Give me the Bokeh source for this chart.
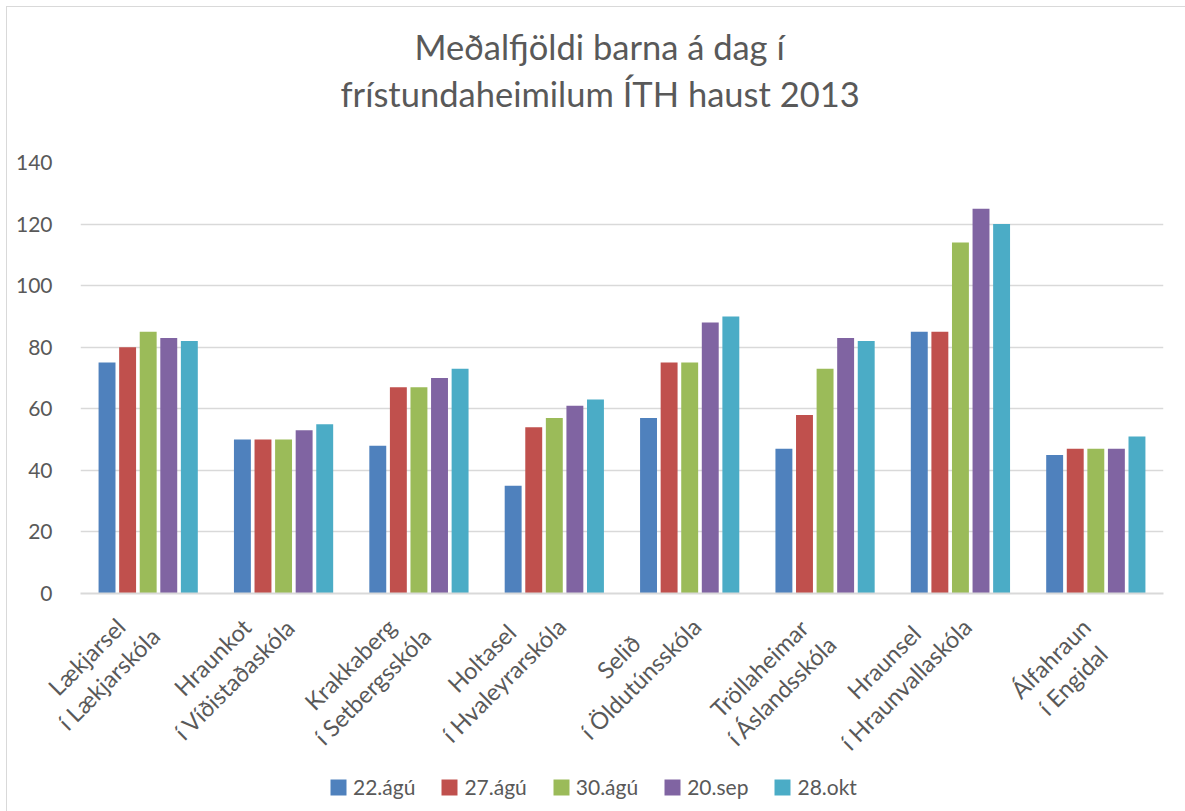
import math
from bokeh.plotting import figure
from bokeh.layouts import column
from bokeh.models import FactorRange, Range1d, Legend, LegendItem, Title, SingleIntervalTicker
from bokeh.transform import dodge
from bokeh.core.properties import value
from bokeh.embed import file_html
from bokeh.resources import INLINE

# category labels: (first line, second line)
school_lines = [
    ("Lækjarsel", "í Lækjarskóla"),
    ("Hraunkot", "í Víðistaðaskóla"),
    ("Krakkaberg", "í Setbergsskóla"),
    ("Holtasel", "í Hvaleyrarskóla"),
    ("Selið", "í Öldutúnsskóla"),
    ("Tröllaheimar", "í Áslandsskóla"),
    ("Hraunsel", "í Hraunvallaskóla"),
    ("Álfahraun", "í Engidal"),
]
series_names = ["22.ágú", "27.ágú", "30.ágú", "20.sep", "28.okt"]
d22_agu = [75, 50, 48, 35, 57, 47, 85, 45]
d27_agu = [80, 50, 67, 54, 75, 58, 85, 47]
d30_agu = [85, 50, 67, 57, 75, 73, 114, 47]
d20_sep = [83, 53, 70, 61, 88, 83, 125, 47]
d28_okt = [82, 55, 73, 63, 90, 82, 120, 51]
title_lines = ["Meðalfjöldi barna á dag í", "frístundaheimilum ÍTH haust 2013"]

schools = [a + "\n" + b for a, b in school_lines]
series = [d22_agu, d27_agu, d30_agu, d20_sep, d28_okt]
colors = ["#4F81BD", "#C0504D", "#9BBB59", "#8064A2", "#4BACC6"]
FONT = "Lato"
TXT = "#595959"

# ---- layout constants (pixels) ----
W = 1178
LEFT, RIGHT, TOP = 73, 22, 155
BOTTOM = 14
H_MAIN = 586 + BOTTOM
H_STRIP = 804 - H_MAIN
FRAME_W = W - LEFT - RIGHT
N = len(schools)

data = {"school": schools}
for i, s in enumerate(series):
    data[f"s{i}"] = s

p = figure(
    x_range=FactorRange(*schools, range_padding=0),
    y_range=Range1d(0, 140),
    width=W, height=H_MAIN,
    output_backend="svg", toolbar_location=None, title=None,
    min_border_left=LEFT, min_border_right=RIGHT, min_border_top=TOP, min_border_bottom=BOTTOM,
)
p.outline_line_color = None

offsets = [-0.304, -0.152, 0.0, 0.152, 0.304]
for i in range(5):
    p.vbar(x=dodge("school", offsets[i], range=p.x_range), top=f"s{i}", width=0.125,
           source=data, fill_color=colors[i], line_color=None)

p.yaxis.ticker = SingleIntervalTicker(interval=20)
p.yaxis.axis_line_color = None
p.yaxis.major_tick_line_color = None
p.yaxis.minor_tick_line_color = None
p.yaxis.major_label_standoff = 22
p.yaxis.major_label_text_font = FONT
p.yaxis.major_label_text_font_size = "21px"
p.yaxis.major_label_text_color = TXT

# x axis: only its line here; the rotated labels are drawn in the strip below
p.xaxis.axis_line_color = "#D9D9D9"
p.xaxis.axis_line_width = 2
p.xaxis.major_tick_line_color = None
p.xaxis.minor_tick_line_color = None
p.xaxis.major_tick_out = 0
p.xaxis.major_tick_in = 0
p.xaxis.major_label_standoff = 0
p.xaxis.major_label_text_font_size = "0px"
p.xaxis.major_label_text_color = None

p.xgrid.grid_line_color = None
p.ygrid.grid_line_color = "#D9D9D9"
p.ygrid.grid_line_width = 1.5

# title: spacer nearest the plot, then second line, then first line
p.add_layout(Title(text=" ", text_font_size="2px", standoff=42), "above")
p.add_layout(Title(text=title_lines[1], align="left", offset=260, standoff=5,
                   text_font=FONT, text_font_size="34.5px", text_font_style="normal",
                   text_color=TXT), "above")
p.add_layout(Title(text=title_lines[0], align="left", offset=334, standoff=4,
                   text_font=FONT, text_font_size="34.5px", text_font_style="normal",
                   text_color=TXT), "above")

# ---- strip below: rotated category labels + legend ----
q = figure(
    x_range=Range1d(-LEFT * N / FRAME_W, N + RIGHT * N / FRAME_W),
    y_range=Range1d(-H_STRIP, 0),
    width=W, height=H_STRIP, output_backend="svg", toolbar_location=None,
    x_axis_type=None, y_axis_type=None, min_border=0,
)
q.outline_line_color = None
try:
    p.frame_align = False
    q.frame_align = False
except Exception:
    pass

# approximate Lato advance widths (em) to lay out two centred lines
LATO_EM = {'a': .49, 'b': .55, 'c': .45, 'd': .55, 'e': .51, 'f': .31, 'g': .50, 'h': .55,
           'i': .23, 'j': .23, 'k': .50, 'l': .23, 'm': .83, 'n': .55, 'o': .55, 'p': .55,
           'r': .35, 's': .41, 't': .34, 'u': .55, 'v': .50, 'y': .50, 'æ': .80, 'ð': .55,
           'ö': .55, 'ó': .55, 'ú': .55, 'á': .49, 'í': .23, ' ': .19, 'L': .47, 'H': .72,
           'K': .62, 'S': .50, 'T': .55, 'Á': .67, 'Ö': .78, 'E': .56, 'V': .67}
FS = 23.5
LH = 31.3
RIGHT_GAP, TOP_GAP = 7, 29
c = math.cos(math.pi / 4)
axis_px = TOP + (H_MAIN - TOP - BOTTOM)   # frame bottom inside the main figure


def text_w(s):
    return sum(LATO_EM.get(ch, 0.5) for ch in s) * 1.03 * FS


centers = [i + 0.5 for i in range(N)]
xo1, yo1, xo2, yo2 = [], [], [], []
for a, b in school_lines:
    w1, w2 = text_w(a), text_w(b)
    dx = RIGHT_GAP - c * max(w1 / 2, LH + w2 / 2)
    dy = (axis_px + TOP_GAP + c * max(w1 / 2, w2 / 2 - LH)) - H_MAIN
    xo1.append(dx)
    yo1.append(dy)
    xo2.append(dx + c * LH)
    yo2.append(dy + c * LH)

lab = {"x": centers, "y": [0] * N,
       "t1": [a for a, b in school_lines], "t2": [b for a, b in school_lines],
       "xo1": xo1, "yo1": yo1, "xo2": xo2, "yo2": yo2}
for t, xo, yo in (("t1", "xo1", "yo1"), ("t2", "xo2", "yo2")):
    q.text(x="x", y="y", text=t, x_offset=xo, y_offset=yo, source=lab,
           angle=math.pi / 4, text_align="center", text_baseline="middle",
           text_font=value(FONT), text_font_size=value(f"{FS}px"), text_color=TXT)

qdata = {"xc": centers}
for i, s in enumerate(series):
    qdata[f"s{i}"] = s
leg_renderers = []
for i in range(5):
    r = q.vbar(x=dodge("xc", offsets[i]), top=f"s{i}", width=0.125,
               source=qdata, fill_color=colors[i], line_color=None, visible=False)
    leg_renderers.append(r)

legend = Legend(
    items=[LegendItem(label=series_names[i], renderers=[leg_renderers[i]]) for i in range(5)],
    orientation="horizontal", location=(321, 12),
    glyph_width=20, glyph_height=20, label_standoff=5, spacing=24,
    label_text_font=FONT, label_text_font_size="21px", label_text_color=TXT,
    border_line_color=None, background_fill_alpha=0, padding=4, margin=0,
    inactive_fill_alpha=0,
)
q.add_layout(legend, "center")

layout = column(p, q, styles={"margin-left": "7px", "margin-top": "7px",
                              "outline": "1.5px solid #D9D9D9"})

open("out.html", "w").write(file_html(layout, INLINE))
